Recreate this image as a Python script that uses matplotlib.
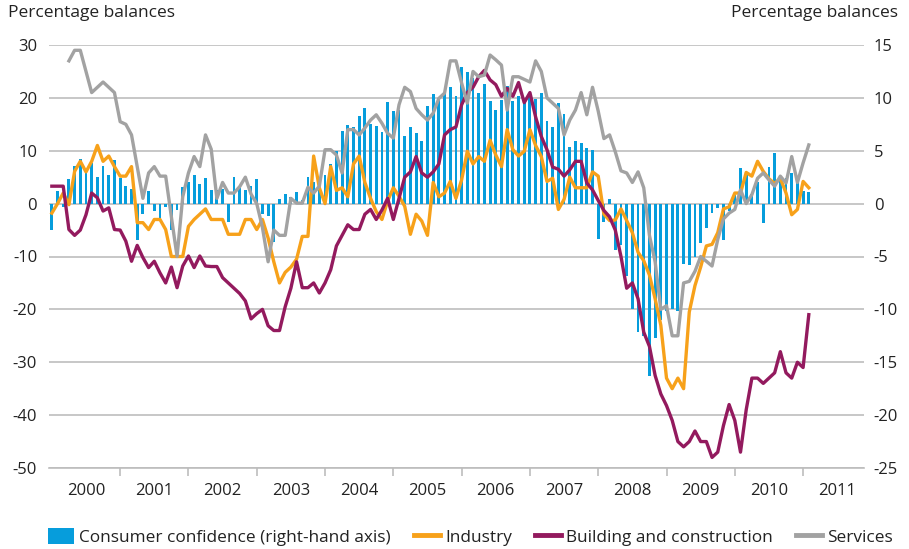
import numpy as np
import matplotlib
matplotlib.use("Agg")
import matplotlib.pyplot as plt
from matplotlib.ticker import FixedLocator, NullFormatter

plt.rcParams['font.family'] = ['Open Sans', 'DejaVu Sans']
plt.rcParams['axes.unicode_minus'] = False

# Monthly data, Jan 2000 onwards (index = months since Jan 2000)
years = list(range(2000, 2012))

# Consumer confidence, right-hand axis
consumer = [-2.5, 1.2, -0.3, 2.3, 3.6, 4.2, 3.1, 3.8, 2.5, 3.6, 2.7, 4.1,
            2.4, 1.7, 1.4, -3.4, -1.0, 1.2, -0.7, -1.4, -0.3, -2.5, -0.6, 1.6,
            2.0, 2.7, 1.9, 2.4, 1.3, 1.3, 1.4, -1.7, 2.5, 1.5, 1.3, 1.7,
            2.3, -1.0, -1.2, -3.6, 0.4, 0.9, 0.6, 1.1, 0.3, 2.5, 2.0, 1.3,
            2.7, 3.7, 5.0, 6.9, 7.4, 7.2, 8.3, 9.0, 7.5, 7.3, 6.8, 9.6,
            8.8, 8.9, 6.4, 7.2, 6.7, 5.9, 9.2, 10.4, 10.0, 10.5, 11.0, 10.2,
            12.9, 12.4, 11.9, 10.5, 11.3, 9.7, 8.9, 9.8, 11.1, 9.7, 10.2, 9.5,
            10.3, 9.9, 10.5, 7.8, 7.2, 9.5, 8.5, 5.4, 5.9, 5.7, 5.3, 5.1,
            -3.3, -1.7, 0.4, -4.4, -3.9, -6.8, -10.0, -12.1, -12.5, -16.3, -12.7, -11.0,
            -10.2, -10.0, -10.2, -5.7, -5.8, -5.0, -3.7, -2.3, -0.9, -0.4, -3.4, -0.7,
            0.8, 3.4, 2.9, 0.9, 2.0, -1.8, 3.5, 4.8, 2.1, 2.4, 2.9, 2.0,
            1.2, 1.1]

industry = [-1.8, 0, 2, -0.2, 6.1, 8, 6, 8, 11, 8, 9, 7,
            5.2, 5.2, 7, -3.6, -3.6, -4.9, -3, -3, -4.9, -10, -10, -10,
            -4.3, -3, -2, -1, -3, -3, -3, -5.8, -5.8, -5.8, -3, -3,
            -4.9, -3, -6.5, -11, -15, -13, -12, -10.5, -6.2, -6.2, 9, 3,
            0, 7, 2.5, 3, 1.3, 7.5, 9, 4, 1, -1.5, -3, 0.5,
            3, 1.4, -0.5, -5.8, -2, -3.3, -6, 4, 1.3, 2, 4.2, 1,
            4.5, 9.9, 7.5, 8.9, 8, 12, 9.2, 7, 14, 10.2, 9, 9.9,
            14, 11, 8.9, 4.2, 4.8, -1.1, 0.8, 5, 3, 3, 3, 6,
            5.2, -2, -3.2, -3.1, -1, -3.2, -5.5, -9.2, -10.8, -13.5, -18, -23,
            -33, -35, -33, -35, -20.5, -15.5, -12, -8, -7.7, -5.5, -1, -0.6,
            2, 2, 5.9, 5.2, 8, 6.1, 4.7, 3.8, 4.8, 2, -2.1, -1.1,
            4.2, 3]

building = [3.3, 3.3, 3.3, -4.9, -6, -5, -2.1, 2, 1.1, -1.4, -0.8, -4.9,
            -5, -7.1, -10.9, -7.9, -10.2, -12.1, -10.9, -13.1, -15, -12, -15.9, -11.8,
            -9.9, -12.1, -9.9, -11.8, -11.9, -11.9, -14, -15, -16, -17, -18.4, -21.8,
            -20.8, -20, -23.1, -24, -24, -19.5, -16, -11, -15.9, -15.9, -15, -16.9,
            -15, -12.5, -8, -6, -4, -4.9, -4.9, -2, -1.1, -3, -1.2, 1,
            -3, 1, 5, 6, 8.9, 5.8, 5, 6, 7.5, 13, 14, 14.5,
            18.7, 21, 22, 24, 25.2, 23.4, 22.5, 20.3, 21.8, 20.3, 22.9, 19.1,
            21, 16.4, 12.7, 10.2, 6.9, 6.5, 5.2, 6.4, 8, 8, 3.9, 2.6,
            0.6, -1.3, -2.5, -5, -10, -16, -15, -18, -24.3, -27, -32.5, -36,
            -38.2, -41, -45, -46, -45, -43, -45, -45, -48, -47, -42, -38,
            -41, -47, -39, -33, -33, -34, -33, -32, -28, -32, -33, -30,
            -31, -21]

services = [np.nan, np.nan, np.nan, 27, 29, 29, 25, 21, 22, 23, 22, 21,
            15.5, 15, 13, 7, 1, 5.8, 7, 5.2, 5.2, -2.5, -10, 1.3,
            5.8, 8.9, 7, 13, 10.3, 1, 4, 2, 2, 3.2, 5, 1.8,
            0, -4.5, -11, -5, -6, -6, 1, 0.1, 0.1, 3.1, 2, 3.3,
            10.2, 10.2, 9.2, 5.8, 14, 14, 13, 14.3, 15.8, 16.8, 15.2, 13.3,
            12.4, 18.7, 22, 21.2, 18, 16.8, 15.8, 17.1, 19.9, 20.9, 27, 27,
            22.8, 19, 25, 24, 24.3, 28.1, 27.2, 26.2, 17.7, 24, 24, 23.5,
            23, 27, 25, 20, 19, 18, 13, 15.8, 17.7, 21, 16.8, 22,
            17.5, 12.3, 13, 9.8, 6.2, 5.8, 4, 6, 3, -6, -11, -20,
            -19.3, -25, -25, -15, -14.7, -12.8, -10, -10.9, -11.8, -6.8, -2.9, -1.8,
            -1.1, 2.6, 0, 1.7, 4.8, 5.8, 4.5, 3.3, 5.2, 3.9, 8.9, 4,
            7.7, 11.1]

months = np.arange(len(consumer))

blue = '#069ddc'
orange = '#f7a11a'
purple = '#931a5e'
grey = '#a2a2a2'
gridc = '#bdbdbd'
textc = '#222222'
fs = 12

fig = plt.figure(figsize=(9.09, 5.49), dpi=100)
ax2 = fig.add_axes([49 / 909, 1 - 468 / 549, 815 / 909, 423 / 549])
ax = ax2.twinx()
ax.set_zorder(ax2.get_zorder() + 1)
ax.patch.set_visible(False)

# bars on the right-hand scale
ax2.bar(months, consumer, width=0.5, color=blue, zorder=2,
        label='Consumer confidence (right-hand axis)')
ax2.set_ylim(-25, 15)
ax2.set_yticks(np.arange(-25, 16, 5))
ax2.grid(axis='y', color=gridc, lw=1.2, zorder=0)
ax2.set_axisbelow(True)

ax.plot(months, industry, color=orange, lw=2.4, label='Industry')
ax.plot(months, building, color=purple, lw=2.4, label='Building and construction')
ax.plot(months, services, color=grey, lw=2.4, label='Services')
ax.set_ylim(-50, 30)
ax.set_yticks(np.arange(-50, 31, 10))

# swap sides so that the left scale is the lines' scale
ax.yaxis.tick_left()
ax2.yaxis.tick_right()

ax2.set_xlim(-0.5, 142.7)
for a in (ax, ax2):
    for s in a.spines.values():
        s.set_visible(False)
ax2.spines['bottom'].set_visible(True)
ax2.spines['bottom'].set_color(gridc)
ax2.spines['bottom'].set_linewidth(1.2)

ax2.xaxis.set_major_locator(FixedLocator([12 * k for k in range(1, 12)]))
ax2.xaxis.set_major_formatter(NullFormatter())
ax2.xaxis.set_minor_locator(FixedLocator([12 * k + 6 for k in range(12)]))
ax2.set_xticklabels([str(y) for y in years], minor=True)
ax2.tick_params(axis='x', which='major', length=6, width=1.2, color=gridc)
ax2.tick_params(axis='x', which='minor', length=0, pad=11, labelsize=fs, labelcolor=textc)
ax.tick_params(axis='x', which='both', length=0, labelbottom=False)

ax.tick_params(axis='y', length=0, pad=8.5, labelsize=fs, labelcolor=textc)
ax2.tick_params(axis='y', length=0, pad=7, labelsize=fs, labelcolor=textc)

fig.text(8 / 909, 1 - 13 / 549, 'Percentage balances', fontsize=12.5, color=textc, va='center', ha='left')
fig.text(898 / 909, 1 - 13 / 549, 'Percentage balances', fontsize=12.5, color=textc, va='center', ha='right')

h1, l1 = ax2.get_legend_handles_labels()
h2, l2 = ax.get_legend_handles_labels()
leg = fig.legend(h1 + h2, l1 + l2, loc='center', bbox_to_anchor=(0.518, 1 - 537 / 549),
                 ncol=4, frameon=False, fontsize=12.4, handlelength=1.5, handleheight=1.0,
                 handletextpad=0.3, columnspacing=1.35, borderaxespad=0)
for t in leg.get_texts():
    t.set_color(textc)
for line in leg.get_lines():
    line.set_linewidth(3.5)

fig.savefig('out.png', dpi=100)
